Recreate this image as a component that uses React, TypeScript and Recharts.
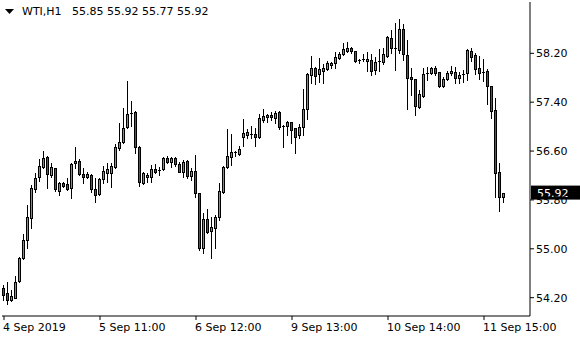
import React from 'react';
import {
  ComposedChart,
  Bar,
  XAxis,
  YAxis,
  ReferenceLine
} from 'recharts';

// hourly WTI bars, 4 Sep 2019 onwards
const OPEN = [
  54.36, 54.28, 54.16, 54.20, 54.47, 54.85, 55.14, 55.50, 55.98, 56.17,
  56.34, 56.50, 56.21, 56.32, 55.95, 56.08, 56.06, 55.99, 56.40, 56.44,
  56.22, 56.17, 56.21, 55.98, 55.90, 56.14, 56.24, 56.24, 56.34, 56.65,
  56.75, 57.00, 57.22, 57.24, 56.67, 56.08, 56.17, 56.17, 56.31, 56.29,
  56.31, 56.49, 56.42, 56.49, 56.39, 56.26, 56.44, 56.19, 56.27, 55.91,
  55.01, 55.49, 55.29, 55.34, 55.52, 55.93, 56.34, 56.50, 56.58, 56.55,
  56.83, 56.86, 56.88, 56.88, 56.83, 57.11, 57.16, 57.19, 57.14, 57.24,
  57.01, 57.01, 57.07, 56.98, 56.86, 56.99, 57.29, 57.84, 57.96, 57.86,
  57.91, 57.94, 58.01, 58.04, 58.12, 58.19, 58.24, 58.29, 58.24, 58.09,
  58.09, 58.08, 58.09, 57.93, 58.06, 58.06, 58.16, 58.45, 58.29, 58.25,
  58.60, 58.17, 57.81, 57.78, 57.32, 57.50, 57.88, 57.88, 57.96, 57.89,
  57.66, 57.78, 57.88, 57.89, 57.79, 57.85, 57.88, 58.24, 58.17, 57.96,
  57.89, 57.91, 57.66, 57.27, 56.26, 55.85
];
const HIGH = [
  54.41, 54.46, 54.32, 54.55, 54.87, 55.24, 55.72, 56.04, 56.24, 56.47,
  56.60, 56.52, 56.40, 56.33, 56.09, 56.09, 56.16, 56.40, 56.67, 56.47,
  56.32, 56.26, 56.22, 56.16, 56.16, 56.35, 56.40, 56.40, 56.72, 57.06,
  57.30, 57.75, 57.42, 57.25, 56.68, 56.26, 56.24, 56.37, 56.39, 56.34,
  56.50, 56.52, 56.50, 56.50, 56.42, 56.45, 56.45, 56.32, 56.54, 55.92,
  55.59, 55.65, 55.52, 55.55, 56.08, 56.35, 56.96, 56.88, 56.60, 56.68,
  57.12, 56.96, 57.01, 56.98, 57.21, 57.29, 57.21, 57.24, 57.26, 57.26,
  57.03, 57.09, 57.08, 56.98, 57.04, 57.62, 57.88, 58.16, 57.97, 58.12,
  58.02, 58.07, 58.06, 58.22, 58.22, 58.37, 58.38, 58.30, 58.24, 58.11,
  58.19, 58.22, 58.19, 58.14, 58.27, 58.29, 58.48, 58.58, 58.70, 58.76,
  58.68, 58.42, 57.96, 57.78, 57.60, 57.96, 57.98, 57.97, 58.00, 57.90,
  57.81, 57.91, 57.99, 57.97, 57.89, 57.92, 58.27, 58.29, 58.20, 58.16,
  58.10, 57.94, 57.66, 57.47, 56.40, 55.92
];
const LOW = [
  54.16, 54.10, 54.15, 54.19, 54.46, 54.84, 55.01, 55.34, 55.93, 56.11,
  56.32, 55.99, 56.17, 55.95, 55.88, 56.01, 55.96, 55.83, 56.32, 56.21,
  56.08, 56.16, 55.93, 55.77, 55.88, 56.08, 56.09, 56.01, 56.32, 56.62,
  56.73, 56.98, 57.01, 56.57, 56.03, 56.06, 56.09, 56.09, 56.24, 56.21,
  56.29, 56.40, 56.34, 56.35, 56.25, 56.17, 56.16, 56.13, 55.85, 54.98,
  54.93, 55.26, 54.85, 55.01, 55.47, 55.91, 56.32, 56.37, 56.52, 56.53,
  56.68, 56.81, 56.81, 56.68, 56.82, 57.08, 57.08, 57.11, 57.06, 56.96,
  56.67, 56.86, 56.73, 56.57, 56.81, 56.86, 57.12, 57.71, 57.70, 57.73,
  57.71, 57.93, 57.96, 57.96, 58.11, 58.17, 58.22, 58.20, 58.06, 58.04,
  58.07, 57.91, 57.84, 57.86, 57.91, 58.02, 58.14, 58.20, 57.93, 58.20,
  58.09, 57.29, 57.52, 57.19, 57.31, 57.48, 57.76, 57.86, 57.84, 57.65,
  57.65, 57.76, 57.84, 57.71, 57.71, 57.73, 57.76, 58.07, 57.86, 57.78,
  57.74, 57.37, 57.14, 55.85, 55.62, 55.77
];
const CLOSE = [
  54.24, 54.16, 54.23, 54.46, 54.85, 55.14, 55.52, 55.99, 56.16, 56.35,
  56.49, 56.22, 56.34, 55.98, 56.08, 56.03, 55.98, 56.39, 56.44, 56.22,
  56.17, 56.22, 55.98, 55.88, 56.14, 56.27, 56.31, 56.35, 56.67, 56.75,
  56.98, 57.21, 57.23, 56.67, 56.09, 56.24, 56.21, 56.31, 56.26, 56.29,
  56.49, 56.42, 56.49, 56.39, 56.26, 56.42, 56.19, 56.27, 55.91, 55.01,
  55.49, 55.27, 55.36, 55.52, 55.95, 56.34, 56.52, 56.58, 56.57, 56.63,
  56.90, 56.91, 56.88, 56.83, 57.14, 57.17, 57.19, 57.16, 57.22, 56.99,
  57.00, 57.07, 56.94, 56.83, 56.99, 57.29, 57.86, 57.96, 57.83, 57.94,
  57.96, 58.04, 58.04, 58.14, 58.19, 58.27, 58.29, 58.24, 58.07, 58.07,
  58.10, 58.10, 57.91, 58.06, 58.07, 58.19, 58.47, 58.29, 58.27, 58.60,
  58.19, 57.80, 57.78, 57.34, 57.53, 57.86, 57.88, 57.96, 57.88, 57.66,
  57.78, 57.88, 57.91, 57.80, 57.84, 57.86, 58.25, 58.14, 57.94, 57.88,
  57.89, 57.66, 57.25, 56.24, 55.85, 55.92
];

const TICK_INDEX = [0, 24, 48, 72, 96, 120];
const TICK_LABELS = ['4 Sep 2019', '5 Sep 11:00', '6 Sep 12:00', '9 Sep 13:00', '10 Sep 14:00', '11 Sep 15:00'];
const PRICE_TICKS = [54.2, 55.0, 55.8, 56.6, 57.4, 58.2];
const LAST_PRICE = 55.92;
const HEADER = 'WTI,H1';
const EMPTY_BARS = 6; // chart shift on the right

const FONT = '"DejaVu Sans", Verdana, sans-serif';
const BULL = '#3cbf3c';
const BEAR = '#d42020';

const data = [
  ...OPEN.map((o, i) => ({ i, o, h: HIGH[i], l: LOW[i], c: CLOSE[i] })),
  ...Array.from({ length: EMPTY_BARS }, (_, k) => ({ i: OPEN.length + k }))
];

const Candle = (props: any) => {
  const { x, y, width, height, payload } = props;
  if (payload == null || payload.h == null) return null;
  const top = Math.min(y, y + height);
  const span = Math.abs(height);
  const px = Math.floor(x + width / 2) - 1;
  const ppu = payload.h > payload.l ? span / (payload.h - payload.l) : 0;
  const yOf = (v: number) => top + (payload.h - v) * ppu;
  const bt = Math.round(yOf(Math.max(payload.o, payload.c)));
  const bb = Math.round(yOf(Math.min(payload.o, payload.c)));
  return (
    <g>
      <line x1={px + 0.5} x2={px + 0.5} y1={Math.round(top)} y2={Math.round(top + span) + 1} stroke="#000" strokeWidth={1} />
      {bb - bt < 2 ? (
        <line x1={px - 1} x2={px + 2} y1={bt + 0.5} y2={bt + 0.5} stroke="#000" strokeWidth={1} />
      ) : (
        <rect
          x={px - 0.5}
          y={bt + 0.5}
          width={2}
          height={bb - bt}
          fill={payload.c >= payload.o ? BULL : BEAR}
          stroke="#000"
          strokeWidth={1}
        />
      )}
    </g>
  );
};

const DateTick = (props: any) => {
  const { x, y, payload } = props;
  const k = TICK_INDEX.indexOf(payload.value);
  return (
    <text x={x - 1} y={y + 9} fontSize={11} fontFamily={FONT} fill="#000" textAnchor="start">
      {k >= 0 ? TICK_LABELS[k] : ''}
    </text>
  );
};

const PriceTag = (props: any) => {
  const vb = props.viewBox;
  if (!vb) return null;
  const left = vb.x + vb.width + 1;
  return (
    <g>
      <rect x={left} y={vb.y - 7} width={50} height={14} fill="#000" />
      <text x={left + 6} y={vb.y + 4} fontSize={11} fontFamily={FONT} fill="#fff">
        {LAST_PRICE.toFixed(2)}
      </text>
    </g>
  );
};

export default function App() {
  return (
    <div style={{ position: 'absolute', left: 0, top: 0, width: 580, height: 340, background: '#fff' }}>
      <ComposedChart
        width={580}
        height={340}
        data={data}
        margin={{ top: 2, right: 0, bottom: 0, left: 2 }}
        barCategoryGap={0}
        barGap={0}
      >
        <XAxis
          dataKey="i"
          type="category"
          ticks={TICK_INDEX}
          interval={0}
          height={24}
          tick={<DateTick />}
          tickSize={4}
          axisLine={{ stroke: '#000' }}
          tickLine={{ stroke: '#000' }}
        />
        <XAxis
          xAxisId="top"
          dataKey="i"
          orientation="top"
          height={0}
          tick={false}
          tickLine={false}
          axisLine={{ stroke: '#000' }}
        />
        <YAxis
          orientation="right"
          width={50}
          type="number"
          domain={[53.9, 59.04]}
          allowDataOverflow
          ticks={PRICE_TICKS}
          interval={0}
          tickFormatter={(v: number) => v.toFixed(2)}
          tickSize={4}
          tick={{ fontSize: 11, fontFamily: FONT, fill: '#000' }}
          axisLine={{ stroke: '#000' }}
          tickLine={{ stroke: '#000' }}
        />
        <YAxis
          yAxisId="left"
          orientation="left"
          width={0}
          tick={false}
          tickLine={false}
          axisLine={{ stroke: '#000' }}
        />
        <Bar
          dataKey={(d: any) => (d.h == null ? null : [d.l, d.h])}
          shape={<Candle />}
          isAnimationActive={false}
        />
        <ReferenceLine y={LAST_PRICE} stroke="none" label={<PriceTag />} />
      </ComposedChart>
      <div
        style={{
          position: 'absolute',
          left: 5,
          top: 5,
          fontFamily: FONT,
          fontSize: 11,
          color: '#000',
          whiteSpace: 'pre',
          display: 'flex',
          alignItems: 'center'
        }}
      >
        <svg width={9} height={6} style={{ marginRight: 8 }}>
          <polygon points="0,0 9,0 4.5,5" fill="#000" />
        </svg>
        <span>{HEADER}   {OPEN[OPEN.length - 1].toFixed(2)} {HIGH[HIGH.length - 1].toFixed(2)} {LOW[LOW.length - 1].toFixed(2)} {CLOSE[CLOSE.length - 1].toFixed(2)}</span>
      </div>
    </div>
  );
}
